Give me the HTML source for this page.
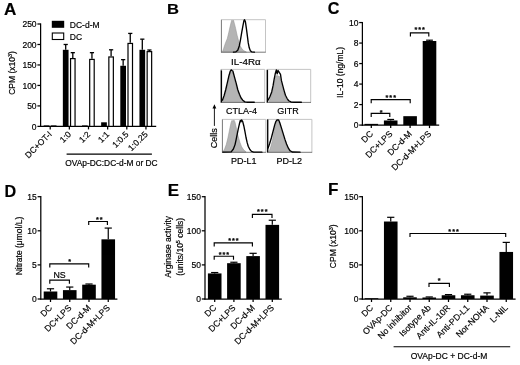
<!DOCTYPE html>
<html><head><meta charset="utf-8"><title>Figure</title>
<style>
html,body{margin:0;padding:0;background:#fff;}
svg text{stroke:#000;stroke-width:0.18px;}
svg{display:block;will-change:transform;opacity:0.999;font-family:"Liberation Sans",sans-serif;fill:#000;}
</style></head><body>
<svg width="520" height="365" viewBox="0 0 520 365">
<rect x="0" y="0" width="520" height="365" fill="#fff"/>
<text transform="translate(3.90 15.00) scale(1.0 1)" font-size="17.1" font-weight="bold" stroke="#000" stroke-width="0.25">A</text>
<text transform="translate(167.00 14.30) scale(1.07 1)" font-size="15.5" font-weight="bold" stroke="#000" stroke-width="0.25">B</text>
<text transform="translate(327.80 14.10) scale(1.03 1)" font-size="15.7" font-weight="bold" stroke="#000" stroke-width="0.25">C</text>
<text transform="translate(4.40 197.00) scale(0.946 1)" font-size="17.1" font-weight="bold" stroke="#000" stroke-width="0.25">D</text>
<text transform="translate(167.80 196.15) scale(1.06 1)" font-size="16.0" font-weight="bold" stroke="#000" stroke-width="0.25">E</text>
<text transform="translate(328.00 195.25) scale(1.0 1)" font-size="17.0" font-weight="bold" stroke="#000" stroke-width="0.25">F</text>
<line x1="40.60" y1="127.00" x2="40.60" y2="23.40" stroke="#000" stroke-width="1.25"/>
<line x1="37.40" y1="126.40" x2="40.60" y2="126.40" stroke="#000" stroke-width="1.25"/>
<text x="36.60" y="129.55" font-size="8.5" text-anchor="end">0</text>
<line x1="37.40" y1="105.92" x2="40.60" y2="105.92" stroke="#000" stroke-width="1.25"/>
<text x="36.60" y="109.07" font-size="8.5" text-anchor="end">50</text>
<line x1="37.40" y1="85.44" x2="40.60" y2="85.44" stroke="#000" stroke-width="1.25"/>
<text x="36.60" y="88.59" font-size="8.5" text-anchor="end">100</text>
<line x1="37.40" y1="64.96" x2="40.60" y2="64.96" stroke="#000" stroke-width="1.25"/>
<text x="36.60" y="68.11" font-size="8.5" text-anchor="end">150</text>
<line x1="37.40" y1="44.48" x2="40.60" y2="44.48" stroke="#000" stroke-width="1.25"/>
<text x="36.60" y="47.63" font-size="8.5" text-anchor="end">200</text>
<line x1="37.40" y1="24.00" x2="40.60" y2="24.00" stroke="#000" stroke-width="1.25"/>
<text x="36.60" y="27.15" font-size="8.5" text-anchor="end">250</text>
<line x1="40.00" y1="126.40" x2="156.20" y2="126.40" stroke="#000" stroke-width="1.25"/>
<line x1="50.20" y1="126.40" x2="50.20" y2="129.40" stroke="#000" stroke-width="1.25"/>
<text x="52.50" y="134.80" font-size="8.5" text-anchor="end" transform="rotate(-45 52.50 134.80)">DC+OT-I</text>
<line x1="69.35" y1="126.40" x2="69.35" y2="129.40" stroke="#000" stroke-width="1.25"/>
<text x="71.65" y="134.80" font-size="8.5" text-anchor="end" transform="rotate(-45 71.65 134.80)">1:0</text>
<line x1="88.50" y1="126.40" x2="88.50" y2="129.40" stroke="#000" stroke-width="1.25"/>
<text x="90.80" y="134.80" font-size="8.5" text-anchor="end" transform="rotate(-45 90.80 134.80)">1:2</text>
<line x1="107.65" y1="126.40" x2="107.65" y2="129.40" stroke="#000" stroke-width="1.25"/>
<text x="109.95" y="134.80" font-size="8.5" text-anchor="end" transform="rotate(-45 109.95 134.80)">1:1</text>
<line x1="126.80" y1="126.40" x2="126.80" y2="129.40" stroke="#000" stroke-width="1.25"/>
<text x="129.10" y="134.80" font-size="8.5" text-anchor="end" transform="rotate(-45 129.10 134.80)">1:0.5</text>
<line x1="145.95" y1="126.40" x2="145.95" y2="129.40" stroke="#000" stroke-width="1.25"/>
<text x="148.25" y="134.80" font-size="8.5" text-anchor="end" transform="rotate(-45 148.25 134.80)">1:0.25</text>
<rect x="43.70" y="125.40" width="5.70" height="1.00" fill="#000"/>
<rect x="50.80" y="125.40" width="5.70" height="1.00" fill="#000"/>
<line x1="65.70" y1="49.80" x2="65.70" y2="44.48" stroke="#000" stroke-width="1.3"/>
<line x1="63.60" y1="44.48" x2="67.80" y2="44.48" stroke="#000" stroke-width="1.3"/>
<line x1="72.80" y1="58.00" x2="72.80" y2="52.67" stroke="#000" stroke-width="1.3"/>
<line x1="70.70" y1="52.67" x2="74.90" y2="52.67" stroke="#000" stroke-width="1.3"/>
<rect x="62.85" y="49.80" width="5.70" height="76.60" fill="#000"/>
<rect x="70.55" y="58.60" width="4.50" height="67.80" fill="#fff" stroke="#000" stroke-width="1.2"/>
<line x1="91.95" y1="58.82" x2="91.95" y2="52.67" stroke="#000" stroke-width="1.3"/>
<line x1="89.85" y1="52.67" x2="94.05" y2="52.67" stroke="#000" stroke-width="1.3"/>
<rect x="82.00" y="125.40" width="5.70" height="1.00" fill="#000"/>
<rect x="89.70" y="59.42" width="4.50" height="66.98" fill="#fff" stroke="#000" stroke-width="1.2"/>
<line x1="111.10" y1="56.36" x2="111.10" y2="49.80" stroke="#000" stroke-width="1.3"/>
<line x1="109.00" y1="49.80" x2="113.20" y2="49.80" stroke="#000" stroke-width="1.3"/>
<rect x="101.15" y="122.30" width="5.70" height="4.10" fill="#000"/>
<rect x="108.85" y="56.96" width="4.50" height="69.44" fill="#fff" stroke="#000" stroke-width="1.2"/>
<line x1="123.15" y1="65.78" x2="123.15" y2="59.64" stroke="#000" stroke-width="1.3"/>
<line x1="121.05" y1="59.64" x2="125.25" y2="59.64" stroke="#000" stroke-width="1.3"/>
<line x1="130.25" y1="42.84" x2="130.25" y2="33.42" stroke="#000" stroke-width="1.3"/>
<line x1="128.15" y1="33.42" x2="132.35" y2="33.42" stroke="#000" stroke-width="1.3"/>
<rect x="120.30" y="65.78" width="5.70" height="60.62" fill="#000"/>
<rect x="128.00" y="43.44" width="4.50" height="82.96" fill="#fff" stroke="#000" stroke-width="1.2"/>
<line x1="142.30" y1="49.80" x2="142.30" y2="39.16" stroke="#000" stroke-width="1.3"/>
<line x1="140.20" y1="39.16" x2="144.40" y2="39.16" stroke="#000" stroke-width="1.3"/>
<line x1="149.40" y1="51.03" x2="149.40" y2="50.01" stroke="#000" stroke-width="1.3"/>
<line x1="147.30" y1="50.01" x2="151.50" y2="50.01" stroke="#000" stroke-width="1.3"/>
<rect x="139.45" y="49.80" width="5.70" height="76.60" fill="#000"/>
<rect x="147.15" y="51.63" width="4.50" height="74.77" fill="#fff" stroke="#000" stroke-width="1.2"/>
<rect x="51.80" y="20.80" width="12.40" height="7.00" fill="#000"/>
<rect x="52.30" y="33.00" width="11.40" height="6.50" fill="#fff" stroke="#000" stroke-width="1.1"/>
<text x="69.80" y="27.60" font-size="8.5" text-anchor="start">DC-d-M</text>
<text x="69.80" y="39.60" font-size="8.5" text-anchor="start">DC</text>
<text x="14.80" y="73.00" font-size="8.5" text-anchor="middle" transform="rotate(-90 14.80 73.00)">CPM (x10<tspan font-size="5.5" dy="-3">3</tspan><tspan dy="3">)</tspan></text>
<line x1="66.60" y1="154.10" x2="151.90" y2="154.10" stroke="#000" stroke-width="1.1"/>
<text x="65.20" y="166.00" font-size="8.4" text-anchor="start">OVAp-DC:DC-d-M or DC</text>
<path d="M221.40 19.70H265.50V52.20" fill="none" stroke="#bdbdbd" stroke-width="0.9"/>
<path d="M222.39 52.20 L222.39 51.95 L223.62 48.48 L225.47 42.90 L227.31 38.55 L228.79 32.35 L230.02 26.77 L231.25 21.81 L231.99 19.95 L232.73 21.44 L233.47 20.20 L234.46 23.67 L235.69 28.63 L237.17 35.45 L238.65 41.04 L240.25 46.00 L242.09 49.10 L243.94 50.71 L246.41 51.95 L246.41 52.20Z" fill="#b4b4b4" stroke="#8e8e8e" stroke-width="0.5"/>
<line x1="221.40" y1="19.70" x2="221.40" y2="52.50" stroke="#777" stroke-width="1.0"/>
<line x1="221.00" y1="52.20" x2="265.80" y2="52.20" stroke="#6a6a6a" stroke-width="0.9"/>
<path d="M233.47 52.08 L235.94 51.83 L237.78 50.34 L239.26 46.00 L240.49 39.80 L241.73 32.35 L242.96 25.53 L243.94 20.57 L244.56 19.70 L245.42 21.81 L246.41 28.63 L247.39 36.07 L248.25 42.90 L249.24 47.86 L250.35 50.71 L251.58 51.83 L254.41 52.08" fill="none" stroke="#000" stroke-width="1.35" stroke-linejoin="round" stroke-linecap="round"/>
<path d="M221.10 69.40H264.70V102.40" fill="none" stroke="#bdbdbd" stroke-width="0.9"/>
<path d="M222.42 102.40 L222.42 101.85 L224.61 96.90 L226.26 90.85 L227.91 83.70 L229.34 76.55 L230.65 72.15 L231.75 71.05 L232.85 72.70 L234.28 78.20 L235.60 83.70 L237.24 89.75 L238.89 94.70 L240.54 98.55 L242.74 101.08 L244.38 102.18 L244.38 102.40Z" fill="#b4b4b4" stroke="#8e8e8e" stroke-width="0.5"/>
<line x1="221.10" y1="69.40" x2="221.10" y2="102.70" stroke="#777" stroke-width="1.0"/>
<line x1="220.70" y1="102.40" x2="265.00" y2="102.40" stroke="#6a6a6a" stroke-width="0.9"/>
<path d="M221.76 100.42 L222.42 100.20 L224.07 95.80 L225.71 89.75 L227.36 82.60 L229.01 75.45 L230.33 71.05 L231.20 69.84 L231.97 70.50 L232.85 71.05 L234.50 77.10 L236.15 83.15 L237.79 89.75 L239.44 94.15 L241.09 98.00 L242.74 100.20 L244.93 101.85 L247.68 102.29 L254.27 102.29" fill="none" stroke="#000" stroke-width="1.35" stroke-linejoin="round" stroke-linecap="round"/>
<path d="M221.43 70.50 L221.43 102.40" fill="none" stroke="#000" stroke-width="1.3"/>
<path d="M267.10 69.40H310.70V102.40" fill="none" stroke="#bdbdbd" stroke-width="0.9"/>
<path d="M268.97 102.40 L268.97 101.85 L270.61 98.00 L272.26 93.05 L273.69 86.45 L274.79 80.40 L275.89 76.00 L276.98 75.45 L278.30 76.00 L279.62 76.55 L280.72 81.50 L282.15 86.45 L283.57 91.95 L284.89 96.35 L286.54 99.65 L288.74 101.52 L288.74 102.40Z" fill="#b4b4b4" stroke="#8e8e8e" stroke-width="0.5"/>
<line x1="267.10" y1="69.40" x2="267.10" y2="102.70" stroke="#777" stroke-width="1.0"/>
<line x1="266.70" y1="102.40" x2="311.00" y2="102.40" stroke="#6a6a6a" stroke-width="0.9"/>
<path d="M267.76 100.20 L268.42 99.65 L270.07 96.35 L271.71 91.95 L273.03 85.90 L274.13 79.30 L275.23 73.80 L276.33 69.95 L277.20 73.80 L278.08 70.50 L279.40 72.70 L280.50 74.35 L281.38 80.40 L282.69 85.35 L284.01 90.30 L285.44 95.25 L287.09 98.55 L288.74 100.75 L290.93 101.96 L294.23 102.29 L301.36 102.29" fill="none" stroke="#000" stroke-width="1.35" stroke-linejoin="round" stroke-linecap="round"/>
<path d="M267.43 70.06 L267.43 102.40" fill="none" stroke="#000" stroke-width="1.3"/>
<path d="M222.40 119.40H265.80V152.30" fill="none" stroke="#bdbdbd" stroke-width="0.9"/>
<path d="M222.95 152.30 L222.95 151.75 L224.60 149.01 L226.25 144.62 L227.89 138.04 L228.99 132.56 L230.09 127.08 L231.19 122.14 L232.07 120.28 L232.95 121.59 L233.94 119.95 L235.04 122.14 L236.13 127.08 L237.23 132.56 L238.33 136.95 L239.98 142.43 L241.63 146.82 L243.83 150.11 L246.02 151.75 L246.02 152.30Z" fill="#b4b4b4" stroke="#8e8e8e" stroke-width="0.5"/>
<line x1="222.40" y1="119.40" x2="222.40" y2="152.60" stroke="#777" stroke-width="1.0"/>
<line x1="222.00" y1="152.30" x2="266.10" y2="152.30" stroke="#6a6a6a" stroke-width="0.9"/>
<path d="M222.84 152.08 L231.19 151.86 L233.39 149.01 L235.04 144.62 L236.13 139.69 L237.23 134.21 L238.33 128.72 L239.43 123.79 L240.31 120.50 L240.97 121.81 L241.63 119.95 L242.73 121.59 L243.83 125.98 L244.92 131.46 L246.02 137.50 L247.12 142.43 L248.22 146.27 L249.87 149.56 L251.52 151.42 L253.71 152.08 L261.95 152.19" fill="none" stroke="#000" stroke-width="1.35" stroke-linejoin="round" stroke-linecap="round"/>
<path d="M267.40 119.40H311.90V152.30" fill="none" stroke="#bdbdbd" stroke-width="0.9"/>
<path d="M269.09 152.30 L269.09 151.75 L270.78 146.82 L272.47 140.24 L274.16 131.46 L275.51 124.88 L276.64 121.59 L278.10 121.05 L279.57 123.79 L280.92 128.72 L282.61 134.21 L284.30 139.69 L285.99 144.62 L287.68 148.46 L289.93 151.42 L289.93 152.30Z" fill="#b4b4b4" stroke="#8e8e8e" stroke-width="0.5"/>
<line x1="267.40" y1="119.40" x2="267.40" y2="152.60" stroke="#777" stroke-width="1.0"/>
<line x1="267.00" y1="152.30" x2="312.20" y2="152.30" stroke="#6a6a6a" stroke-width="0.9"/>
<path d="M268.08 148.13 L269.65 143.53 L271.34 138.04 L273.03 131.46 L274.72 124.88 L275.85 121.59 L276.98 119.95 L278.67 119.95 L279.79 122.69 L281.48 128.17 L283.17 133.66 L284.86 139.14 L286.55 144.08 L288.24 147.91 L289.93 150.66 L292.18 151.97 L300.07 152.19" fill="none" stroke="#000" stroke-width="1.35" stroke-linejoin="round" stroke-linecap="round"/>
<path d="M267.74 119.62 L267.74 152.30" fill="none" stroke="#000" stroke-width="1.3"/>
<text x="245.90" y="64.90" font-size="9.8" text-anchor="middle">IL-4Rα</text>
<text x="241.60" y="113.90" font-size="9" text-anchor="middle">CTLA-4</text>
<text x="288.00" y="113.90" font-size="9" text-anchor="middle">GITR</text>
<text x="243.80" y="163.50" font-size="9" text-anchor="middle">PD-L1</text>
<text x="289.20" y="163.50" font-size="9" text-anchor="middle">PD-L2</text>
<text x="217.40" y="138.20" font-size="9" text-anchor="middle" transform="rotate(-90 217.40 138.20)">Cells</text>
<line x1="214.40" y1="125.90" x2="214.40" y2="107.00" stroke="#000" stroke-width="0.9"/>
<path d="M212.5 108.6 L214.4 104.2 L216.3 108.6Z" fill="#000"/>
<line x1="362.40" y1="125.70" x2="362.40" y2="21.95" stroke="#000" stroke-width="1.25"/>
<line x1="359.20" y1="125.10" x2="362.40" y2="125.10" stroke="#000" stroke-width="1.25"/>
<text x="358.40" y="128.25" font-size="8.5" text-anchor="end">0</text>
<line x1="359.20" y1="104.59" x2="362.40" y2="104.59" stroke="#000" stroke-width="1.25"/>
<text x="358.40" y="107.74" font-size="8.5" text-anchor="end">2</text>
<line x1="359.20" y1="84.08" x2="362.40" y2="84.08" stroke="#000" stroke-width="1.25"/>
<text x="358.40" y="87.23" font-size="8.5" text-anchor="end">4</text>
<line x1="359.20" y1="63.57" x2="362.40" y2="63.57" stroke="#000" stroke-width="1.25"/>
<text x="358.40" y="66.72" font-size="8.5" text-anchor="end">6</text>
<line x1="359.20" y1="43.06" x2="362.40" y2="43.06" stroke="#000" stroke-width="1.25"/>
<text x="358.40" y="46.21" font-size="8.5" text-anchor="end">8</text>
<line x1="359.20" y1="22.55" x2="362.40" y2="22.55" stroke="#000" stroke-width="1.25"/>
<text x="358.40" y="25.70" font-size="8.5" text-anchor="end">10</text>
<line x1="361.80" y1="125.10" x2="439.20" y2="125.10" stroke="#000" stroke-width="1.25"/>
<line x1="371.30" y1="125.10" x2="371.30" y2="128.10" stroke="#000" stroke-width="1.25"/>
<text x="373.60" y="134.40" font-size="8.7" text-anchor="end" transform="rotate(-45 373.60 134.40)">DC</text>
<line x1="390.70" y1="125.10" x2="390.70" y2="128.10" stroke="#000" stroke-width="1.25"/>
<text x="393.00" y="134.40" font-size="8.7" text-anchor="end" transform="rotate(-45 393.00 134.40)">DC+LPS</text>
<line x1="410.10" y1="125.10" x2="410.10" y2="128.10" stroke="#000" stroke-width="1.25"/>
<text x="412.40" y="134.40" font-size="8.7" text-anchor="end" transform="rotate(-45 412.40 134.40)">DC-d-M</text>
<line x1="429.50" y1="125.10" x2="429.50" y2="128.10" stroke="#000" stroke-width="1.25"/>
<text x="431.80" y="134.40" font-size="8.7" text-anchor="end" transform="rotate(-45 431.80 134.40)">DC-d-M+LPS</text>
<rect x="364.50" y="123.87" width="13.60" height="1.23" fill="#000"/>
<line x1="390.70" y1="120.49" x2="390.70" y2="119.46" stroke="#000" stroke-width="1.2"/>
<line x1="387.30" y1="119.46" x2="394.10" y2="119.46" stroke="#000" stroke-width="1.2"/>
<rect x="383.90" y="120.49" width="13.60" height="4.61" fill="#000"/>
<rect x="403.30" y="116.18" width="13.60" height="8.92" fill="#000"/>
<line x1="429.50" y1="41.01" x2="429.50" y2="40.19" stroke="#000" stroke-width="1.2"/>
<line x1="426.10" y1="40.19" x2="432.90" y2="40.19" stroke="#000" stroke-width="1.2"/>
<rect x="422.70" y="41.01" width="13.60" height="84.09" fill="#000"/>
<path d="M371.20 116.90V113.30H389.80V116.90" fill="none" stroke="#000" stroke-width="1.15"/>
<text x="381.75" y="114.60" font-size="7.2" text-anchor="middle" font-weight="bold" letter-spacing="1.0" stroke="none">*</text>
<path d="M371.20 103.20V99.60H410.20V103.20" fill="none" stroke="#000" stroke-width="1.15"/>
<text x="391.25" y="99.80" font-size="7.2" text-anchor="middle" font-weight="bold" letter-spacing="1.0" stroke="none">***</text>
<path d="M410.40 36.50V32.90H428.80V36.50" fill="none" stroke="#000" stroke-width="1.15"/>
<text x="420.15" y="32.40" font-size="7.2" text-anchor="middle" font-weight="bold" letter-spacing="1.0" stroke="none">***</text>
<text x="343.20" y="72.40" font-size="8.5" text-anchor="middle" transform="rotate(-90 343.20 72.40)">IL-10 (ng/mL)</text>
<line x1="40.80" y1="299.60" x2="40.80" y2="196.10" stroke="#000" stroke-width="1.25"/>
<line x1="37.60" y1="299.00" x2="40.80" y2="299.00" stroke="#000" stroke-width="1.25"/>
<text x="36.80" y="302.15" font-size="8.5" text-anchor="end">0</text>
<line x1="37.60" y1="264.90" x2="40.80" y2="264.90" stroke="#000" stroke-width="1.25"/>
<text x="36.80" y="268.05" font-size="8.5" text-anchor="end">5</text>
<line x1="37.60" y1="230.80" x2="40.80" y2="230.80" stroke="#000" stroke-width="1.25"/>
<text x="36.80" y="233.95" font-size="8.5" text-anchor="end">10</text>
<line x1="37.60" y1="196.70" x2="40.80" y2="196.70" stroke="#000" stroke-width="1.25"/>
<text x="36.80" y="199.85" font-size="8.5" text-anchor="end">15</text>
<line x1="40.20" y1="299.00" x2="117.40" y2="299.00" stroke="#000" stroke-width="1.25"/>
<line x1="50.50" y1="299.00" x2="50.50" y2="302.00" stroke="#000" stroke-width="1.25"/>
<text x="52.80" y="308.30" font-size="8.7" text-anchor="end" transform="rotate(-45 52.80 308.30)">DC</text>
<line x1="69.75" y1="299.00" x2="69.75" y2="302.00" stroke="#000" stroke-width="1.25"/>
<text x="72.05" y="308.30" font-size="8.7" text-anchor="end" transform="rotate(-45 72.05 308.30)">DC+LPS</text>
<line x1="89.00" y1="299.00" x2="89.00" y2="302.00" stroke="#000" stroke-width="1.25"/>
<text x="91.30" y="308.30" font-size="8.7" text-anchor="end" transform="rotate(-45 91.30 308.30)">DC-d-M</text>
<line x1="108.25" y1="299.00" x2="108.25" y2="302.00" stroke="#000" stroke-width="1.25"/>
<text x="110.55" y="308.30" font-size="8.7" text-anchor="end" transform="rotate(-45 110.55 308.30)">DC-d-M+LPS</text>
<line x1="50.50" y1="291.50" x2="50.50" y2="288.77" stroke="#000" stroke-width="1.2"/>
<line x1="46.90" y1="288.77" x2="54.10" y2="288.77" stroke="#000" stroke-width="1.2"/>
<rect x="43.70" y="291.50" width="13.60" height="7.50" fill="#000"/>
<line x1="69.75" y1="290.13" x2="69.75" y2="287.06" stroke="#000" stroke-width="1.2"/>
<line x1="66.15" y1="287.06" x2="73.35" y2="287.06" stroke="#000" stroke-width="1.2"/>
<rect x="62.95" y="290.13" width="13.60" height="8.87" fill="#000"/>
<line x1="89.00" y1="284.68" x2="89.00" y2="284.00" stroke="#000" stroke-width="1.2"/>
<line x1="85.40" y1="284.00" x2="92.60" y2="284.00" stroke="#000" stroke-width="1.2"/>
<rect x="82.20" y="284.68" width="13.60" height="14.32" fill="#000"/>
<line x1="108.25" y1="239.32" x2="108.25" y2="228.07" stroke="#000" stroke-width="1.2"/>
<line x1="104.65" y1="228.07" x2="111.85" y2="228.07" stroke="#000" stroke-width="1.2"/>
<rect x="101.45" y="239.32" width="13.60" height="59.68" fill="#000"/>
<path d="M49.80 283.70V280.10H69.40V283.70" fill="none" stroke="#000" stroke-width="1.15"/>
<text x="59.50" y="278.00" font-size="8.8" text-anchor="middle">NS</text>
<path d="M49.80 267.50V263.90H88.70V267.50" fill="none" stroke="#000" stroke-width="1.15"/>
<text x="70.15" y="264.20" font-size="7.2" text-anchor="middle" font-weight="bold" letter-spacing="1.0" stroke="none">*</text>
<path d="M88.70 225.10V221.50H107.40V225.10" fill="none" stroke="#000" stroke-width="1.15"/>
<text x="99.85" y="221.80" font-size="7.2" text-anchor="middle" font-weight="bold" letter-spacing="1.0" stroke="none">**</text>
<text x="22.40" y="246.00" font-size="8.5" text-anchor="middle" transform="rotate(-90 22.40 246.00)">Nitrate (μmol/L)</text>
<line x1="205.00" y1="299.60" x2="205.00" y2="196.10" stroke="#000" stroke-width="1.25"/>
<line x1="201.80" y1="299.00" x2="205.00" y2="299.00" stroke="#000" stroke-width="1.25"/>
<text x="201.00" y="302.15" font-size="8.5" text-anchor="end">0</text>
<line x1="201.80" y1="264.90" x2="205.00" y2="264.90" stroke="#000" stroke-width="1.25"/>
<text x="201.00" y="268.05" font-size="8.5" text-anchor="end">50</text>
<line x1="201.80" y1="230.80" x2="205.00" y2="230.80" stroke="#000" stroke-width="1.25"/>
<text x="201.00" y="233.95" font-size="8.5" text-anchor="end">100</text>
<line x1="201.80" y1="196.70" x2="205.00" y2="196.70" stroke="#000" stroke-width="1.25"/>
<text x="201.00" y="199.85" font-size="8.5" text-anchor="end">150</text>
<line x1="204.40" y1="299.00" x2="281.80" y2="299.00" stroke="#000" stroke-width="1.25"/>
<line x1="214.70" y1="299.00" x2="214.70" y2="302.00" stroke="#000" stroke-width="1.25"/>
<text x="217.00" y="308.30" font-size="8.7" text-anchor="end" transform="rotate(-45 217.00 308.30)">DC</text>
<line x1="233.90" y1="299.00" x2="233.90" y2="302.00" stroke="#000" stroke-width="1.25"/>
<text x="236.20" y="308.30" font-size="8.7" text-anchor="end" transform="rotate(-45 236.20 308.30)">DC+LPS</text>
<line x1="253.10" y1="299.00" x2="253.10" y2="302.00" stroke="#000" stroke-width="1.25"/>
<text x="255.40" y="308.30" font-size="8.7" text-anchor="end" transform="rotate(-45 255.40 308.30)">DC-d-M</text>
<line x1="272.30" y1="299.00" x2="272.30" y2="302.00" stroke="#000" stroke-width="1.25"/>
<text x="274.60" y="308.30" font-size="8.7" text-anchor="end" transform="rotate(-45 274.60 308.30)">DC-d-M+LPS</text>
<line x1="214.70" y1="273.43" x2="214.70" y2="272.54" stroke="#000" stroke-width="1.2"/>
<line x1="211.10" y1="272.54" x2="218.30" y2="272.54" stroke="#000" stroke-width="1.2"/>
<rect x="207.90" y="273.43" width="13.60" height="25.58" fill="#000"/>
<line x1="233.90" y1="263.19" x2="233.90" y2="262.24" stroke="#000" stroke-width="1.2"/>
<line x1="230.30" y1="262.24" x2="237.50" y2="262.24" stroke="#000" stroke-width="1.2"/>
<rect x="227.10" y="263.19" width="13.60" height="35.80" fill="#000"/>
<line x1="253.10" y1="256.10" x2="253.10" y2="253.31" stroke="#000" stroke-width="1.2"/>
<line x1="249.50" y1="253.31" x2="256.70" y2="253.31" stroke="#000" stroke-width="1.2"/>
<rect x="246.30" y="256.10" width="13.60" height="42.90" fill="#000"/>
<line x1="272.30" y1="224.87" x2="272.30" y2="220.23" stroke="#000" stroke-width="1.2"/>
<line x1="268.70" y1="220.23" x2="275.90" y2="220.23" stroke="#000" stroke-width="1.2"/>
<rect x="265.50" y="224.87" width="13.60" height="74.13" fill="#000"/>
<path d="M214.20 259.80V256.20H233.50V259.80" fill="none" stroke="#000" stroke-width="1.15"/>
<text x="224.45" y="256.50" font-size="7.2" text-anchor="middle" font-weight="bold" letter-spacing="1.0" stroke="none">***</text>
<path d="M214.20 246.50V242.90H252.40V246.50" fill="none" stroke="#000" stroke-width="1.15"/>
<text x="233.95" y="243.30" font-size="7.2" text-anchor="middle" font-weight="bold" letter-spacing="1.0" stroke="none">***</text>
<path d="M252.40 218.00V214.40H272.00V218.00" fill="none" stroke="#000" stroke-width="1.15"/>
<text x="262.75" y="214.00" font-size="7.2" text-anchor="middle" font-weight="bold" letter-spacing="1.0" stroke="none">***</text>
<text x="171.50" y="246.90" font-size="8.5" text-anchor="middle" transform="rotate(-90 171.50 246.90)">Arginase activity</text>
<text x="183.00" y="246.80" font-size="8.5" text-anchor="middle" transform="rotate(-90 183.00 246.80)">(units/10<tspan font-size="5.5" dy="-3">5</tspan><tspan dy="3"> cells)</tspan></text>
<line x1="362.40" y1="299.60" x2="362.40" y2="196.10" stroke="#000" stroke-width="1.25"/>
<line x1="359.20" y1="299.00" x2="362.40" y2="299.00" stroke="#000" stroke-width="1.25"/>
<text x="358.40" y="302.15" font-size="8.5" text-anchor="end">0</text>
<line x1="359.20" y1="264.90" x2="362.40" y2="264.90" stroke="#000" stroke-width="1.25"/>
<text x="358.40" y="268.05" font-size="8.5" text-anchor="end">50</text>
<line x1="359.20" y1="230.80" x2="362.40" y2="230.80" stroke="#000" stroke-width="1.25"/>
<text x="358.40" y="233.95" font-size="8.5" text-anchor="end">100</text>
<line x1="359.20" y1="196.70" x2="362.40" y2="196.70" stroke="#000" stroke-width="1.25"/>
<text x="358.40" y="199.85" font-size="8.5" text-anchor="end">150</text>
<line x1="361.80" y1="299.00" x2="515.60" y2="299.00" stroke="#000" stroke-width="1.25"/>
<line x1="371.50" y1="299.00" x2="371.50" y2="302.00" stroke="#000" stroke-width="1.25"/>
<text x="373.80" y="308.30" font-size="8.7" text-anchor="end" transform="rotate(-45 373.80 308.30)">DC</text>
<line x1="390.75" y1="299.00" x2="390.75" y2="302.00" stroke="#000" stroke-width="1.25"/>
<text x="393.05" y="308.30" font-size="8.7" text-anchor="end" transform="rotate(-45 393.05 308.30)">OVAp-DC</text>
<line x1="410.00" y1="299.00" x2="410.00" y2="302.00" stroke="#000" stroke-width="1.25"/>
<text x="412.30" y="308.30" font-size="8.7" text-anchor="end" transform="rotate(-45 412.30 308.30)">No inhibitor</text>
<line x1="429.25" y1="299.00" x2="429.25" y2="302.00" stroke="#000" stroke-width="1.25"/>
<text x="431.55" y="308.30" font-size="8.7" text-anchor="end" transform="rotate(-45 431.55 308.30)">Isotype Ab</text>
<line x1="448.50" y1="299.00" x2="448.50" y2="302.00" stroke="#000" stroke-width="1.25"/>
<text x="450.80" y="308.30" font-size="8.7" text-anchor="end" transform="rotate(-45 450.80 308.30)">Anti-IL-10R</text>
<line x1="467.75" y1="299.00" x2="467.75" y2="302.00" stroke="#000" stroke-width="1.25"/>
<text x="470.05" y="308.30" font-size="8.7" text-anchor="end" transform="rotate(-45 470.05 308.30)">Anti-PD-L1</text>
<line x1="487.00" y1="299.00" x2="487.00" y2="302.00" stroke="#000" stroke-width="1.25"/>
<text x="489.30" y="308.30" font-size="8.7" text-anchor="end" transform="rotate(-45 489.30 308.30)">Nor-NOHA</text>
<line x1="506.25" y1="299.00" x2="506.25" y2="302.00" stroke="#000" stroke-width="1.25"/>
<text x="508.55" y="308.30" font-size="8.7" text-anchor="end" transform="rotate(-45 508.55 308.30)">L-NIL</text>
<rect x="364.70" y="298.20" width="13.60" height="0.80" fill="#000"/>
<line x1="390.75" y1="221.52" x2="390.75" y2="217.30" stroke="#000" stroke-width="1.2"/>
<line x1="387.15" y1="217.30" x2="394.35" y2="217.30" stroke="#000" stroke-width="1.2"/>
<rect x="383.95" y="221.52" width="13.60" height="77.48" fill="#000"/>
<line x1="410.00" y1="297.30" x2="410.00" y2="296.27" stroke="#000" stroke-width="1.2"/>
<line x1="406.40" y1="296.27" x2="413.60" y2="296.27" stroke="#000" stroke-width="1.2"/>
<rect x="403.20" y="297.30" width="13.60" height="1.71" fill="#000"/>
<line x1="429.25" y1="297.50" x2="429.25" y2="296.95" stroke="#000" stroke-width="1.2"/>
<line x1="425.65" y1="296.95" x2="432.85" y2="296.95" stroke="#000" stroke-width="1.2"/>
<rect x="422.45" y="297.50" width="13.60" height="1.50" fill="#000"/>
<line x1="448.50" y1="295.25" x2="448.50" y2="294.57" stroke="#000" stroke-width="1.2"/>
<line x1="444.90" y1="294.57" x2="452.10" y2="294.57" stroke="#000" stroke-width="1.2"/>
<rect x="441.70" y="295.25" width="13.60" height="3.75" fill="#000"/>
<line x1="467.75" y1="295.25" x2="467.75" y2="294.23" stroke="#000" stroke-width="1.2"/>
<line x1="464.15" y1="294.23" x2="471.35" y2="294.23" stroke="#000" stroke-width="1.2"/>
<rect x="460.95" y="295.25" width="13.60" height="3.75" fill="#000"/>
<line x1="487.00" y1="295.59" x2="487.00" y2="292.86" stroke="#000" stroke-width="1.2"/>
<line x1="483.40" y1="292.86" x2="490.60" y2="292.86" stroke="#000" stroke-width="1.2"/>
<rect x="480.20" y="295.59" width="13.60" height="3.41" fill="#000"/>
<line x1="506.25" y1="251.94" x2="506.25" y2="242.39" stroke="#000" stroke-width="1.2"/>
<line x1="502.65" y1="242.39" x2="509.85" y2="242.39" stroke="#000" stroke-width="1.2"/>
<rect x="499.45" y="251.94" width="13.60" height="47.06" fill="#000"/>
<path d="M429.00 287.00V283.40H449.40V287.00" fill="none" stroke="#000" stroke-width="1.15"/>
<text x="439.75" y="282.60" font-size="7.2" text-anchor="middle" font-weight="bold" letter-spacing="1.0" stroke="none">*</text>
<path d="M410.00 237.10V233.50H505.70V237.10" fill="none" stroke="#000" stroke-width="1.15"/>
<text x="454.05" y="233.80" font-size="7.2" text-anchor="middle" font-weight="bold" letter-spacing="1.0" stroke="none">***</text>
<line x1="393.60" y1="346.80" x2="510.20" y2="346.80" stroke="#000" stroke-width="1.1"/>
<text x="449.00" y="359.00" font-size="8.5" text-anchor="middle">OVAp-DC + DC-d-M</text>
<text x="335.60" y="246.30" font-size="8.5" text-anchor="middle" transform="rotate(-90 335.60 246.30)">CPM (x10<tspan font-size="5.5" dy="-3">3</tspan><tspan dy="3">)</tspan></text>
</svg>
</body></html>
